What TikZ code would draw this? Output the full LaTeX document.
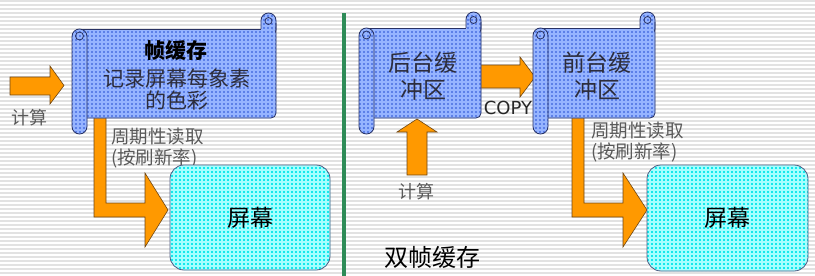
\documentclass[tikz,border=0pt]{standalone}
\usepackage{fontspec}
\setmainfont{Noto Sans CJK SC}
\newfontfamily\latinsans{DejaVu Sans}
\usetikzlibrary{patterns}

% fine square grid laid over the filled shapes
\pgfdeclarepatternformonly{finegrid}{\pgfqpoint{-0.5pt}{-0.5pt}}{\pgfqpoint{4.5pt}{4.5pt}}{\pgfqpoint{4pt}{4pt}}{%
  \pgfsetlinewidth{1.1pt}%
  \pgfpathmoveto{\pgfqpoint{0pt}{2pt}}\pgfpathlineto{\pgfqpoint{4pt}{2pt}}%
  \pgfpathmoveto{\pgfqpoint{2pt}{0pt}}\pgfpathlineto{\pgfqpoint{2pt}{4pt}}%
  \pgfusepath{stroke}}

\definecolor{scrollbase}{RGB}{92,128,232}
\definecolor{scrollgrid}{RGB}{150,180,255}
\definecolor{screenbase}{RGB}{20,232,236}
\definecolor{screengrid}{RGB}{165,255,255}
\definecolor{edgeblue}{RGB}{40,50,100}
\definecolor{arroworange}{RGB}{255,153,0}
\definecolor{arrowedge}{RGB}{110,70,20}
\definecolor{dividergreen}{RGB}{46,139,87}
\definecolor{stripegray}{RGB}{226,226,226}
\definecolor{scrolltextcol}{RGB}{45,45,60}
\definecolor{labelgray}{RGB}{90,90,90}

\tikzset{
  sheet/.style={preaction={fill=scrollbase}, pattern=finegrid, pattern color=scrollgrid},
  sheetline/.style={draw=edgeblue, line width=0.8pt},
  screenbox/.style={rectangle, rounded corners=14pt, draw=edgeblue!80, line width=0.8pt,
    preaction={fill=screenbase}, pattern=finegrid, pattern color=screengrid,
    font=\fontsize{23}{25}\selectfont, text=black, inner sep=0pt},
  blockarrow/.style={fill=arroworange, draw=arrowedge, line width=0.6pt, line join=miter},
  scrolltext/.style={inner sep=0pt, text=scrolltextcol, font=\fontsize{21}{21}\selectfont},
  buftext/.style={inner sep=0pt, text=scrolltextcol, font=\fontsize{23}{23}\selectfont},
  notelabel/.style={inner sep=0pt, text=labelgray, font=\fontsize{18.5}{18.5}\selectfont},
}

% scroll sheet: left, top, right, bottom of the flat part
\newcommand\scrollsheet[4]{%
  \path[sheet, sheetline, rounded corners=7.5pt] ({#3-15},{#2-16}) rectangle (#3,{#2+8});
  \path[sheet, rounded corners=5pt] ({#1+8},#2) rectangle (#3,#4);
  \draw[sheetline] ({#3-15},#2) -- ({#1+8},#2);
  \draw[sheetline, rounded corners=5pt] (#3,{#2-6}) -- (#3,#4) -- ({#1+8},#4);
  \path[sheet, sheetline, rounded corners=7.5pt] (#1,#2) rectangle ({#1+15},{#4+16});
  \draw[sheetline] ({#1+7.5},{#2+7}) circle[radius=4];
  \draw[sheetline] ({#3-7.5},{#2-8}) circle[radius=3.5];
}

\begin{document}
\begin{tikzpicture}[x=1pt, y=-1pt]
  \useasboundingbox (0,0) rectangle (815,276);
  \fill[white] (0,0) rectangle (815,276);
  \foreach \yy in {1,5,...,275} \draw[stripegray, line width=1.2pt] (0,\yy) -- (815,\yy);

  % ---------- single buffer ----------
  \draw[blockarrow] (10,77) -- (50,77) -- (50,66) -- (64,85.5) -- (50,104) -- (50,95) -- (10,95) -- cycle;
  \node[notelabel, font=\fontsize{18}{18}\selectfont] (calcA) at (30,118) {计算};

  \draw[blockarrow] (94,115) -- (106,115) -- (106,203) -- (145,203) -- (145,173) -- (168,210)
    -- (145,247) -- (145,217) -- (94,217) -- cycle;

  \scrollsheet{72}{29}{276}{118}
  \node[scrolltext, text=black, font=\bfseries\fontsize{21}{21}\selectfont] (fbtitle) at (176,50) {帧缓存};
  \node[scrolltext] (fbline1) at (177,78) {记录屏幕每象素};
  \node[scrolltext] (fbline2) at (177,100) {的色彩};

  \node[notelabel, anchor=west] (readA1) at (111,137) {周期性读取};
  \node[notelabel, anchor=west] (readA2) at (111,158) {(按刷新率)};

  \node[screenbox, minimum width=160pt, minimum height=105pt] (screenA) at (250,217.5) {屏幕};

  % ---------- divider ----------
  \coordinate (divtop) at (344,13);
  \coordinate (divbot) at (344,276);
  \draw[dividergreen, line width=3.5pt] (divtop) -- (divbot);

  % ---------- double buffer ----------
  \draw[blockarrow] (478,65) -- (520,65) -- (520,57) -- (535,77) -- (520,97) -- (520,88) -- (478,88) -- cycle;
  \draw[blockarrow] (407,175) -- (407,132) -- (397,132) -- (417,119) -- (437,132) -- (427,132) -- (427,175) -- cycle;
  \draw[blockarrow] (572,115) -- (584,115) -- (584,203) -- (623,203) -- (623,173) -- (647,210)
    -- (623,247) -- (623,217) -- (572,217) -- cycle;

  \scrollsheet{359}{28}{481}{118}
  \node[buftext] (backA) at (423,63) {后台缓};
  \node[buftext] (backB) at (423,90) {冲区};

  \scrollsheet{533}{28}{655}{118}
  \node[buftext] (frontA) at (597,63) {前台缓};
  \node[buftext] (frontB) at (597,90) {冲区};

  \node[inner sep=0pt, text=black!85, font=\latinsans\fontsize{18}{18}\selectfont] (copy) at (508,108) {COPY};
  \node[notelabel, font=\fontsize{18}{18}\selectfont] (calcB) at (416,192) {计算};

  \node[notelabel, anchor=west] (readB1) at (591,131) {周期性读取};
  \node[notelabel, anchor=west] (readB2) at (591,152) {(按刷新率)};

  \node[screenbox, minimum width=161pt, minimum height=106pt] (screenB) at (727.5,218) {屏幕};

  \node[inner sep=0pt, text=black, font=\fontsize{24}{24}\selectfont] (dbl) at (432,257) {双帧缓存};
\end{tikzpicture}
\end{document}
